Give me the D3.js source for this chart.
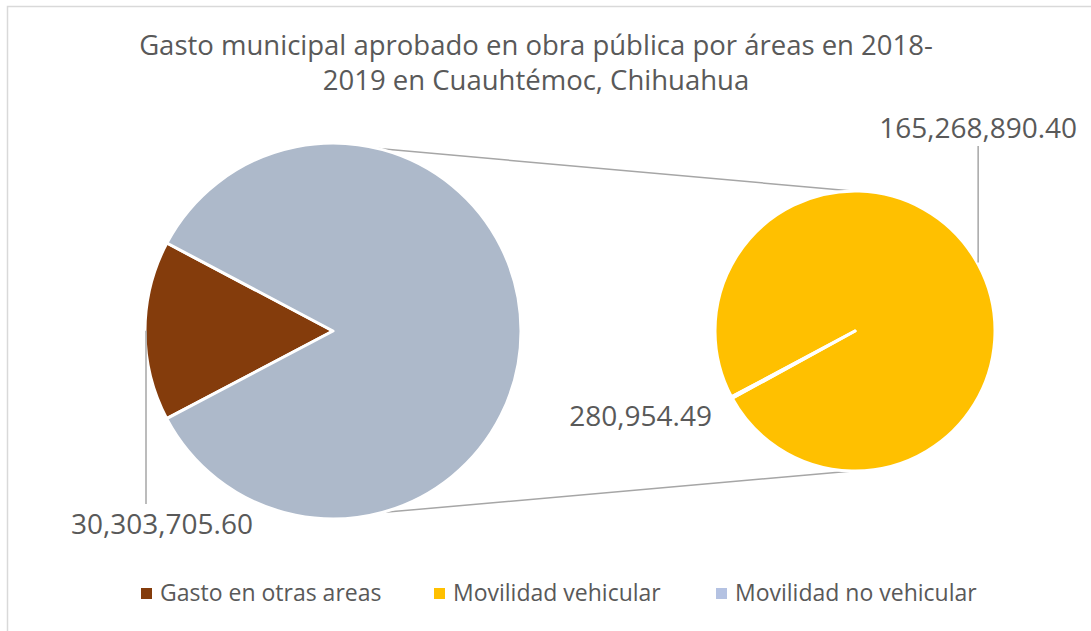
<!DOCTYPE html>
<html>
<head>
<meta charset="utf-8">
<script src="https://cdn.jsdelivr.net/npm/d3@7"></script>
<style>
  html, body { margin: 0; padding: 0; background: #fff; }
  svg { display: block; font-family: "Open Sans", sans-serif; }
</style>
</head>
<body>
<div id="chart"></div>
<script>
// pie de pie: gasto municipal en obra pública

const titleLines = ["Gasto municipal aprobado en obra pública por áreas en 2018-", "2019 en Cuauhtémoc, Chihuahua"];

// pastel principal
const mainCategories = ["Gasto en otras areas", "Otros"];
const secCategories = ["Movilidad vehicular", "Movilidad no vehicular"];
const secValues = [165268890.40, 280954.49];
const mainValues = [30303705.60, d3.sum(secValues)];

const legendLabels = ["Gasto en otras areas", "Movilidad vehicular", "Movilidad no vehicular"];

const colors = {
  "Gasto en otras areas": "#843c0c",
  "Otros": "#adb9ca",
  "Movilidad vehicular": "#ffc000",
  "Movilidad no vehicular": "#b4c2e2"
};

const W = 1091, H = 631;
const textColor = "#595959";
const deg = Math.PI / 180;

const svg = d3.select("#chart").append("svg")
  .attr("width", W).attr("height", H);

// borde del área de gráfico
svg.append("path")
  .attr("d", `M7.5,${H} L7.5,6.5 L${W},6.5`)
  .attr("fill", "none")
  .attr("stroke", "#d9d9d9")
  .attr("stroke-width", 1.5);

// título
svg.append("text")
  .attr("text-anchor", "middle")
  .attr("fill", textColor)
  .style("font-size", "27.5px")
  .selectAll("tspan")
  .data(titleLines)
  .enter().append("tspan")
  .attr("x", 536)
  .attr("y", (d, i) => 55 + i * 35)
  .text(d => d);

// geometría
const main = {cx: 333, cy: 331, r: 188};
const sec = {cx: 855, cy: 331, r: 140};

// ángulo del primer sector (en grados, sentido horario desde arriba)
const mainStart = 242.2;
const secStart = 241.6 + (secValues[1] / d3.sum(secValues)) * 180;

const mainPie = d3.pie().sort(null).startAngle(mainStart * deg).endAngle((mainStart + 360) * deg);
const secPie = d3.pie().sort(null).startAngle(secStart * deg).endAngle((secStart + 360) * deg);

const mainArcs = mainPie(mainValues);
const secArcs = secPie(secValues);

const mainArc = d3.arc().innerRadius(0).outerRadius(main.r);
const secArc = d3.arc().innerRadius(0).outerRadius(sec.r);

function pt(c, ang, rr) {
  const a = ang * deg;
  return [c.cx + (rr || c.r) * Math.sin(a), c.cy - (rr || c.r) * Math.cos(a)];
}

// líneas de conexión
const connectors = [
  [pt(main, 14), pt(sec, -1)],
  [pt(main, 165), pt(sec, 181)]
];
svg.selectAll(".connector")
  .data(connectors)
  .enter().append("line")
  .attr("class", "connector")
  .attr("x1", d => d[0][0]).attr("y1", d => d[0][1])
  .attr("x2", d => d[1][0]).attr("y2", d => d[1][1])
  .attr("stroke", "#a6a6a6")
  .attr("stroke-width", 1.5);

// sectores
svg.append("g")
  .attr("transform", `translate(${main.cx},${main.cy})`)
  .selectAll("path")
  .data(mainArcs)
  .enter().append("path")
  .attr("d", mainArc)
  .attr("fill", (d, i) => colors[mainCategories[i]])
  .attr("stroke", "#fff")
  .attr("stroke-width", 3)
  .attr("stroke-linejoin", "round");

svg.append("g")
  .attr("transform", `translate(${sec.cx},${sec.cy})`)
  .selectAll("path")
  .data(secArcs)
  .enter().append("path")
  .attr("d", secArc)
  .attr("fill", (d, i) => colors[secCategories[i]])
  .attr("stroke", "#fff")
  .attr("stroke-width", 3)
  .attr("stroke-linejoin", "round");

// etiquetas
const fmt = d3.format(",.2f");
const labelSize = "28px";

// 30,303,705.60
const brownMid = (mainArcs[0].startAngle + mainArcs[0].endAngle) / 2 / deg;
const pBrown = pt(main, brownMid);
svg.append("line")
  .attr("x1", pBrown[0] + 1).attr("y1", pBrown[1])
  .attr("x2", pBrown[0] + 1).attr("y2", 504)
  .attr("stroke", "#a6a6a6").attr("stroke-width", 1.5);
svg.append("text")
  .attr("x", 162).attr("y", 534)
  .attr("text-anchor", "middle")
  .attr("fill", textColor)
  .style("font-size", labelSize)
  .text(fmt(mainValues[0]));

// 165,268,890.40
const yelMid = (secArcs[0].startAngle + secArcs[0].endAngle) / 2 / deg;
const pYel = pt(sec, yelMid);
svg.append("line")
  .attr("x1", pYel[0]).attr("y1", pYel[1] - 2)
  .attr("x2", pYel[0]).attr("y2", 146)
  .attr("stroke", "#a6a6a6").attr("stroke-width", 1.5);
svg.append("text")
  .attr("x", pYel[0]).attr("y", 138)
  .attr("text-anchor", "middle")
  .attr("fill", textColor)
  .style("font-size", labelSize)
  .text(fmt(secValues[0]));

// 280,954.49
svg.append("text")
  .attr("x", 712).attr("y", 426)
  .attr("text-anchor", "end")
  .attr("fill", textColor)
  .style("font-size", labelSize)
  .text(fmt(secValues[1]));

// leyenda
const legendX = [141, 434, 716];
const legend = svg.append("g")
  .selectAll("g")
  .data(legendLabels)
  .enter().append("g")
  .attr("transform", (d, i) => `translate(${legendX[i]},593)`);
legend.append("rect")
  .attr("x", 0).attr("y", -5)
  .attr("width", 11).attr("height", 11)
  .attr("fill", d => colors[d]);
legend.append("text")
  .attr("x", 19).attr("y", 8)
  .attr("fill", textColor)
  .style("font-size", "23px")
  .text(d => d);
</script>
</body>
</html>
